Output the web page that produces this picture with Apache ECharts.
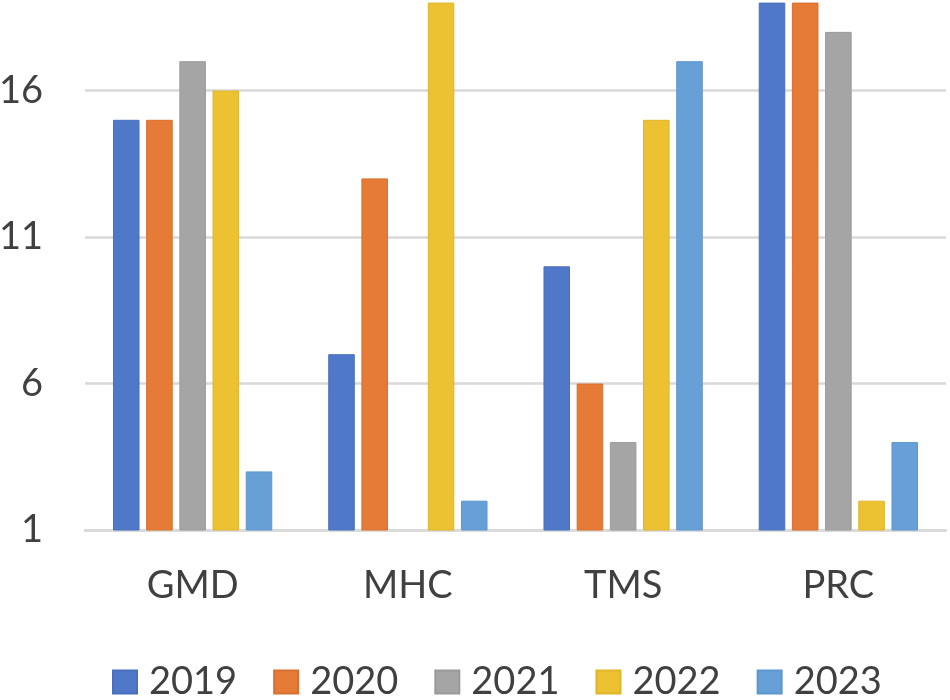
<!DOCTYPE html>
<html>
<head>
<meta charset="utf-8">
<script src="https://cdn.jsdelivr.net/npm/echarts@6/dist/echarts.min.js"></script>
<style>html,body{margin:0;padding:0;background:#fff;}#c{width:950px;height:700px;}</style>
</head>
<body>
<div id="c"></div>
<script>
const categories = ['GMD', 'MHC', 'TMS', 'PRC'];
const years = ['2019', '2020', '2021', '2022', '2023'];
const v2019 = [15, 7, 10, 19];
const v2020 = [15, 13, 6, 19];
const v2021 = [17, 1, 4, 18];
const v2022 = [16, 19, 15, 2];
const v2023 = [3, 2, 17, 4];
const seriesValues = [v2019, v2020, v2021, v2022, v2023];
const yTicks = [1, 6, 11, 16];

const colors = ['#4f78c8', '#e67a37', '#a5a5a5', '#ecc232', '#66a0d6'];
const borders = ['#4a70bd', '#d8702f', '#9a9a9a', '#e0b52a', '#5c97cf'];
const FONT = 'Lato';

const chart = echarts.init(document.getElementById('c'), null, {renderer: 'canvas'});
chart.setOption({
  animation: false,
  backgroundColor: '#ffffff',
  color: colors,
  textStyle: {fontFamily: FONT},
  grid: {left: 85, right: 4, top: -56, bottom: 170, containLabel: false, outerBoundsMode: 'none'},
  legend: {
    data: years,
    left: 107,
    top: 658,
    itemWidth: 24,
    itemHeight: 23,
    itemGap: 36,
    icon: 'rect',
    textStyle: {fontFamily: FONT, fontSize: 38, color: '#404040', padding: [0, 0, 0, 7]}
  },
  xAxis: {
    type: 'category',
    data: categories,
    axisLine: {show: true, lineStyle: {color: '#d9d9d9', width: 2.5}},
    axisTick: {show: false},
    axisLabel: {fontFamily: FONT, fontSize: 38, color: '#404040', margin: 37}
  },
  yAxis: {
    type: 'value',
    min: yTicks[0],
    max: 21,
    interval: yTicks[1] - yTicks[0],
    axisLine: {show: false},
    axisTick: {show: false},
    splitLine: {lineStyle: {color: '#d9d9d9', width: 2.5}},
    axisLabel: {fontFamily: FONT, fontSize: 38, color: '#404040', margin: 42, showMaxLabel: false}
  },
  series: years.map((y, i) => ({
    name: y,
    type: 'bar',
    data: seriesValues[i],
    barGap: '25%',
    barCategoryGap: '26%',
    itemStyle: {color: colors[i], borderColor: borders[i], borderWidth: 1}
  }))
});
</script>
</body>
</html>
